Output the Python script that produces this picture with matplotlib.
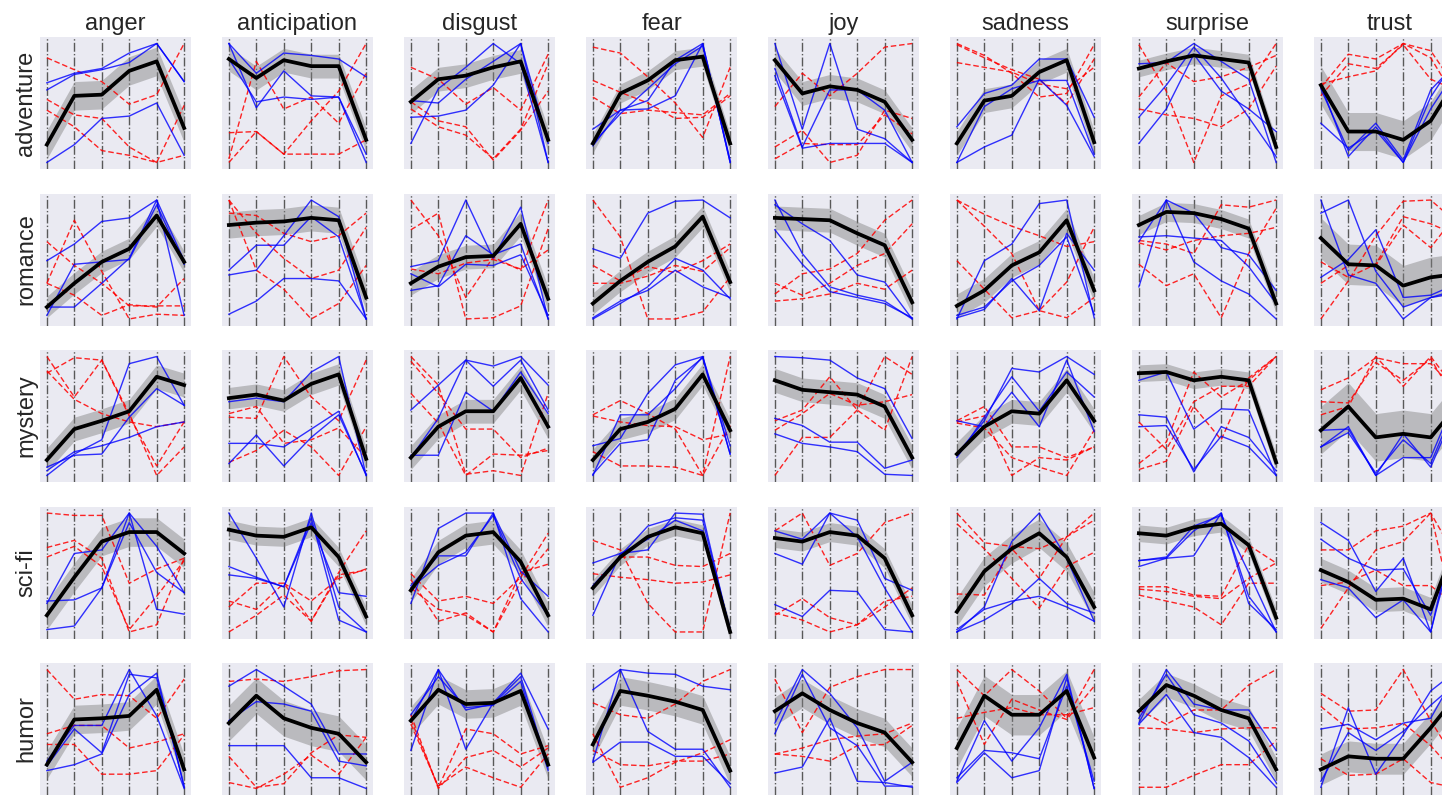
import matplotlib
matplotlib.use("Agg")
import matplotlib.pyplot as plt
import numpy as np

plt.rcParams['font.family'] = ['Liberation Sans', 'DejaVu Sans']

emotions = ["anger", "anticipation", "disgust", "fear", "joy", "sadness", "surprise", "trust"]
genres = ["adventure", "romance", "mystery", "sci-fi", "humor"]

# half-width of the grey band around each mean line (rows = genres, cols = emotions)
spread = [
    [0.12, 0.10, 0.10, 0.08, 0.10, 0.10, 0.07, 0.16],
    [0.09, 0.11, 0.10, 0.09, 0.10, 0.10, 0.08, 0.17],
    [0.10, 0.09, 0.10, 0.09, 0.10, 0.10, 0.07, 0.20],
    [0.12, 0.08, 0.10, 0.07, 0.08, 0.12, 0.07, 0.10],
    [0.12, 0.15, 0.12, 0.12, 0.12, 0.17, 0.10, 0.13],
]

# ---- adventure ----
adventure_mean = [
    [0.15, 0.56, 0.57, 0.77, 0.85, 0.29],
    [0.87, 0.71, 0.86, 0.81, 0.81, 0.19],
    [0.51, 0.70, 0.73, 0.80, 0.85, 0.19],
    [0.16, 0.58, 0.69, 0.86, 0.89, 0.16],
    [0.86, 0.58, 0.64, 0.61, 0.51, 0.19],
    [0.16, 0.52, 0.56, 0.76, 0.86, 0.17],
    [0.79, 0.85, 0.90, 0.87, 0.84, 0.13],
    [0.65, 0.26, 0.26, 0.19, 0.35, 0.72],
]
adventure_blue = [
    [[0.67, 0.75, 0.79, 0.92, 1.0, 0.68], [0.61, 0.74, 0.78, 0.84, 1.0, 0.68], [0.0, 0.15, 0.37, 0.39, 0.50, 0.06]],
    [[1.0, 0.75, 0.92, 0.90, 0.87, 0.72], [1.0, 0.46, 0.77, 0.56, 0.55, 0.0], [0.87, 0.51, 0.55, 0.53, 0.55, 0.07]],
    [[0.16, 0.62, 0.80, 1.0, 0.83, 0.0], [0.52, 0.50, 0.70, 0.85, 1.0, 0.0], [0.38, 0.39, 0.44, 0.65, 1.0, 0.16]],
    [[0.28, 0.44, 0.52, 0.86, 1.0, 0.0], [0.14, 0.44, 0.45, 0.56, 1.0, 0.0], [0.16, 0.41, 0.62, 0.83, 0.98, 0.02]],
    [[1.0, 0.28, 1.0, 0.28, 0.20, 0.0], [0.79, 0.13, 0.61, 0.61, 0.44, 0.0], [0.73, 0.12, 0.16, 0.16, 0.16, 0.0]],
    [[0.30, 0.58, 0.65, 0.87, 0.87, 0.38], [0.0, 0.47, 0.62, 0.69, 0.69, 0.07], [0.0, 0.13, 0.23, 0.70, 0.48, 0.05]],
    [[0.83, 0.84, 1.0, 0.85, 0.70, 0.0], [0.38, 0.65, 0.97, 0.71, 0.38, 0.05], [0.16, 0.45, 0.91, 0.60, 0.45, 0.26]],
    [[0.65, 0.05, 0.30, 0.0, 0.55, 0.9], [0.33, 0.12, 0.27, 0.0, 0.45, 0.8], [0.62, 0.10, 0.33, 0.02, 0.61, 0.85]],
]
adventure_red = [
    [[0.88, 0.78, 0.68, 0.49, 0.57, 1.0], [0.53, 0.40, 0.37, 0.13, 0.0, 0.06], [0.44, 0.30, 0.10, 0.06, 0.0, 0.48]],
    [[0.03, 0.85, 0.45, 0.55, 0.33, 0.75], [0.25, 0.26, 0.07, 0.07, 0.07, 0.19], [0.0, 0.26, 0.07, 0.35, 0.60, 1.0]],
    [[0.80, 0.70, 0.49, 0.63, 0.44, 0.91], [0.51, 0.35, 0.30, 0.02, 0.27, 0.60], [0.45, 0.30, 0.23, 0.03, 0.28, 0.83]],
    [[0.97, 0.92, 0.72, 0.50, 0.21, 0.80], [0.69, 0.59, 0.50, 0.37, 0.38, 0.56], [0.55, 0.41, 0.44, 0.42, 0.40, 0.58]],
    [[0.47, 0.75, 0.56, 0.75, 0.97, 1.0], [0.13, 0.27, 0.0, 0.06, 0.44, 0.37], [0.03, 0.16, 0.15, 0.15, 0.40, 0.24]],
    [[1.0, 0.90, 0.75, 0.55, 0.58, 0.99], [0.99, 0.88, 0.78, 0.70, 0.49, 0.87], [0.84, 0.80, 0.76, 0.66, 0.62, 0.80]],
    [[0.99, 0.60, 0.0, 0.56, 0.66, 1.0], [0.45, 0.40, 0.37, 0.30, 0.45, 0.81], [0.55, 0.84, 0.68, 0.72, 0.80, 0.90]],
    [[0.63, 0.91, 0.87, 1.0, 0.94, 0.6], [0.56, 0.83, 0.79, 0.99, 0.70, 0.6], [0.66, 0.72, 0.77, 1.0, 0.88, 0.5]],
]

# ---- romance ----
romance_mean = [
    [0.10, 0.30, 0.48, 0.59, 0.87, 0.48],
    [0.79, 0.81, 0.82, 0.85, 0.83, 0.18],
    [0.30, 0.44, 0.52, 0.53, 0.80, 0.17],
    [0.13, 0.32, 0.48, 0.61, 0.86, 0.31],
    [0.85, 0.84, 0.83, 0.72, 0.62, 0.14],
    [0.11, 0.24, 0.45, 0.56, 0.83, 0.24],
    [0.79, 0.90, 0.89, 0.84, 0.76, 0.13],
    [0.68, 0.46, 0.45, 0.28, 0.35, 0.38],
]
romance_blue = [
    [[0.49, 0.63, 0.82, 0.85, 1.0, 0.49], [0.10, 0.10, 0.30, 0.51, 1.0, 0.03], [0.03, 0.46, 0.48, 0.50, 0.96, 0.46]],
    [[0.37, 0.41, 0.70, 1.0, 0.86, 0.0], [0.41, 0.62, 0.62, 0.86, 0.69, 0.0], [0.04, 0.15, 0.34, 0.34, 0.32, 0.0]],
    [[0.44, 0.49, 1.0, 0.51, 0.94, 0.0], [0.24, 0.28, 0.70, 0.54, 0.63, 0.0], [0.38, 0.27, 0.46, 0.45, 0.54, 0.03]],
    [[0.59, 0.51, 0.89, 0.99, 1.0, 0.85], [0.0, 0.13, 0.27, 0.51, 0.41, 0.17], [0.01, 0.15, 0.24, 0.41, 0.27, 0.18]],
    [[1.0, 0.55, 0.27, 0.20, 0.15, 0.0], [0.96, 0.80, 0.66, 0.37, 0.31, 0.0], [0.75, 0.46, 0.23, 0.18, 0.13, 0.01]],
    [[0.0, 0.49, 0.63, 0.97, 1.0, 0.01], [0.01, 0.08, 0.34, 0.07, 0.72, 0.41], [0.03, 0.10, 0.32, 0.45, 0.69, 0.04]],
    [[0.65, 1.0, 0.89, 0.60, 0.54, 0.24], [0.27, 1.0, 0.48, 0.32, 0.21, 0.0], [0.69, 0.70, 0.68, 0.66, 0.44, 0.13]],
    [[1.0, 0.37, 0.30, 0.0, 0.18, 0.25], [0.89, 1.0, 0.40, 0.10, 0.18, 0.22], [0.35, 0.50, 0.75, 0.18, 0.20, 0.30]],
]
romance_red = [
    [[0.30, 0.83, 0.40, 0.0, 0.04, 0.03], [0.65, 0.45, 0.30, 0.11, 0.11, 0.11], [0.30, 0.20, 0.03, 0.12, 0.10, 0.34]],
    [[1.0, 0.41, 0.25, 0.0, 0.13, 0.45], [0.89, 0.87, 0.72, 0.65, 0.70, 0.89], [1.0, 0.72, 0.51, 0.34, 0.41, 0.77]],
    [[1.0, 0.70, 0.18, 0.52, 0.41, 1.0], [0.75, 0.89, 0.0, 0.01, 0.11, 0.76], [0.42, 0.38, 0.47, 0.50, 0.42, 0.58]],
    [[1.0, 0.69, 0.0, 0.0, 0.06, 0.35], [0.45, 0.32, 0.44, 0.39, 0.49, 0.63], [0.30, 0.30, 0.36, 0.45, 0.40, 0.60]],
    [[0.21, 0.38, 0.42, 0.55, 0.83, 1.0], [0.15, 0.17, 0.21, 0.30, 0.25, 0.41], [0.30, 0.20, 0.30, 0.45, 0.55, 0.80]],
    [[1.0, 0.78, 0.55, 0.07, 0.31, 0.77], [1.0, 0.88, 0.78, 0.70, 0.61, 0.65], [0.49, 0.25, 0.01, 0.07, 0.01, 0.18]],
    [[0.66, 0.63, 0.55, 0.96, 0.94, 1.0], [0.46, 0.28, 0.38, 0.01, 0.55, 0.93], [0.64, 0.58, 0.66, 0.70, 0.72, 0.77]],
    [[0.0, 0.32, 0.70, 0.99, 1.0, 0.8], [0.48, 0.35, 0.46, 0.86, 0.80, 0.7], [0.30, 0.45, 0.45, 0.79, 0.60, 0.9]],
]

# ---- mystery ----
mystery_mean = [
    [0.13, 0.39, 0.46, 0.54, 0.83, 0.76],
    [0.65, 0.68, 0.63, 0.77, 0.85, 0.14],
    [0.15, 0.41, 0.54, 0.54, 0.82, 0.41],
    [0.13, 0.39, 0.45, 0.56, 0.85, 0.38],
    [0.80, 0.72, 0.70, 0.68, 0.58, 0.15],
    [0.18, 0.41, 0.54, 0.52, 0.80, 0.46],
    [0.86, 0.87, 0.80, 0.83, 0.80, 0.11],
    [0.38, 0.58, 0.32, 0.35, 0.32, 0.6],
]
mystery_blue = [
    [[0.0, 0.18, 0.30, 0.94, 1.0, 0.59], [0.07, 0.17, 0.18, 0.49, 0.73, 0.59], [0.04, 0.20, 0.25, 0.32, 0.41, 0.45]],
    [[0.62, 0.65, 0.62, 0.87, 1.0, 0.0], [0.27, 0.27, 0.24, 0.39, 0.54, 0.0], [0.10, 0.34, 0.08, 0.32, 0.51, 0.01]],
    [[0.55, 0.76, 0.97, 0.92, 1.0, 0.76], [0.17, 0.17, 0.70, 0.54, 0.87, 0.52], [0.15, 0.48, 0.97, 0.75, 0.97, 0.55]],
    [[0.0, 0.51, 0.51, 0.73, 1.0, 0.18], [0.25, 0.31, 0.69, 0.93, 1.0, 0.25], [0.01, 0.27, 0.30, 0.80, 0.99, 0.18]],
    [[1.0, 0.99, 0.97, 0.82, 0.73, 0.31], [0.48, 0.42, 0.28, 0.28, 0.06, 0.13], [0.35, 0.27, 0.24, 0.20, 0.01, 0.0]],
    [[0.18, 0.46, 0.90, 0.87, 1.0, 0.85], [0.46, 0.41, 0.70, 0.41, 0.97, 0.37], [0.15, 0.49, 0.83, 0.54, 0.87, 0.66]],
    [[0.80, 0.87, 0.39, 0.56, 0.55, 0.0], [0.51, 0.49, 0.03, 0.41, 0.32, 0.04], [0.41, 0.42, 0.05, 0.33, 0.24, 0.0]],
    [[0.24, 0.41, 0.0, 0.35, 0.07, 0.6], [0.38, 0.39, 0.0, 0.15, 0.15, 0.7], [0.24, 0.36, 0.02, 0.30, 0.10, 0.65]],
]
mystery_red = [
    [[1.0, 0.66, 0.97, 0.52, 0.0, 0.24], [0.86, 0.99, 0.97, 0.50, 0.08, 0.45], [0.88, 0.64, 0.52, 0.45, 0.41, 0.45]],
    [[0.49, 0.48, 1.0, 0.66, 0.46, 0.97], [0.11, 0.21, 0.38, 0.24, 0.0, 0.41], [0.52, 0.58, 0.27, 0.30, 0.40, 0.15]],
    [[1.0, 0.76, 0.01, 0.04, 0.0, 0.69], [0.96, 0.69, 0.39, 0.39, 0.15, 0.23], [0.69, 0.44, 0.0, 0.18, 0.17, 0.21]],
    [[0.51, 0.63, 0.52, 0.39, 0.0, 1.0], [0.20, 0.08, 0.08, 0.07, 0.0, 0.42], [0.50, 0.45, 0.42, 0.41, 0.30, 0.35]],
    [[0.0, 0.32, 0.32, 0.55, 1.0, 0.85], [0.46, 0.55, 0.83, 0.55, 0.38, 1.0], [0.38, 0.52, 0.69, 0.59, 0.62, 0.68]],
    [[0.46, 0.58, 0.24, 0.24, 0.15, 0.24], [0.44, 0.40, 0.15, 0.07, 0.0, 0.38], [0.45, 0.50, 0.0, 0.15, 0.13, 0.24]],
    [[0.10, 0.28, 0.87, 0.66, 0.80, 1.0], [0.45, 0.22, 0.62, 0.75, 0.75, 1.0], [0.05, 0.12, 0.58, 0.30, 0.82, 1.0]],
    [[0.72, 0.82, 0.99, 0.94, 0.94, 0.7], [0.51, 0.58, 1.0, 0.75, 1.0, 0.7], [0.62, 0.61, 0.95, 0.80, 0.98, 0.6]],
]

# ---- sci-fi ----
scifi_mean = [
    [0.14, 0.46, 0.76, 0.84, 0.84, 0.66],
    [0.86, 0.81, 0.80, 0.88, 0.63, 0.13],
    [0.35, 0.67, 0.81, 0.84, 0.59, 0.14],
    [0.37, 0.63, 0.80, 0.88, 0.83, 0.0],
    [0.79, 0.76, 0.84, 0.81, 0.62, 0.14],
    [0.17, 0.51, 0.70, 0.83, 0.63, 0.21],
    [0.83, 0.81, 0.88, 0.91, 0.73, 0.12],
    [0.52, 0.42, 0.27, 0.28, 0.19, 0.8],
]
scifi_blue = [
    [[0.26, 0.27, 0.37, 1.0, 0.19, 0.15], [0.02, 0.05, 0.37, 0.92, 0.50, 0.33], [0.24, 0.66, 0.69, 1.0, 0.72, 0.33]],
    [[1.0, 0.62, 0.21, 1.0, 0.21, 0.0], [0.55, 0.46, 0.38, 0.96, 0.10, 0.0], [0.48, 0.45, 0.38, 0.92, 0.33, 0.30]],
    [[0.24, 0.87, 1.0, 1.0, 0.28, 0.0], [0.39, 0.64, 0.64, 1.0, 0.51, 0.30], [0.37, 0.56, 0.67, 0.98, 0.45, 0.14]],
    [[0.14, 0.66, 0.69, 1.0, 0.99, 0.0], [0.39, 0.64, 0.89, 0.96, 0.94, 0.01], [0.58, 0.66, 0.78, 0.94, 0.85, 0.03]],
    [[0.85, 0.78, 1.0, 0.94, 0.45, 0.35], [0.66, 0.57, 1.0, 0.80, 0.37, 0.0], [0.23, 0.13, 0.35, 0.34, 0.02, 0.0]],
    [[0.0, 0.21, 0.76, 1.0, 0.62, 0.09], [0.0, 0.10, 0.24, 0.45, 0.24, 0.16], [0.02, 0.19, 0.26, 0.30, 0.21, 0.09]],
    [[0.60, 0.62, 0.64, 1.0, 0.30, 0.0], [0.55, 0.62, 0.85, 1.0, 0.24, 0.02], [0.60, 0.63, 0.89, 0.98, 0.50, 0.0]],
    [[0.92, 0.77, 0.34, 0.62, 0.0, 1.0], [0.78, 0.62, 0.52, 0.53, 0.14, 0.9], [0.44, 0.37, 0.12, 0.27, 0.0, 0.9]],
]
scifi_red = [
    [[1.0, 0.98, 0.98, 0.41, 0.53, 0.62], [0.71, 0.77, 0.62, 0.0, 0.06, 0.62], [0.63, 0.72, 0.55, 0.02, 0.30, 0.60]],
    [[0.26, 0.19, 0.41, 0.26, 0.45, 0.53], [0.0, 0.14, 0.31, 0.09, 0.50, 0.85], [0.21, 0.41, 0.41, 0.09, 0.48, 0.52]],
    [[0.49, 0.26, 0.30, 0.24, 0.46, 0.83], [0.44, 0.09, 0.16, 0.0, 0.42, 0.70], [0.37, 0.19, 0.14, 0.0, 0.50, 0.57]],
    [[0.77, 0.69, 0.24, 0.0, 0.0, 1.0], [0.37, 0.63, 0.63, 0.56, 0.55, 0.66], [0.49, 0.46, 0.44, 0.41, 0.42, 0.48]],
    [[0.85, 1.0, 0.56, 0.66, 0.92, 1.0], [0.14, 0.28, 0.12, 0.06, 0.21, 0.37], [0.16, 0.10, 0.0, 0.06, 0.26, 0.30]],
    [[1.0, 0.75, 0.72, 0.70, 0.80, 0.94], [0.91, 0.70, 0.45, 0.20, 0.55, 0.67], [0.32, 0.31, 0.70, 0.45, 0.80, 1.0]],
    [[0.38, 0.38, 0.31, 0.30, 0.73, 0.58], [0.31, 0.26, 0.21, 0.06, 0.41, 0.41], [0.36, 0.34, 0.30, 0.28, 0.45, 0.58]],
    [[0.69, 0.69, 0.85, 0.89, 1.0, 0.6], [0.03, 0.37, 0.69, 0.76, 1.0, 0.0], [0.39, 0.42, 0.52, 0.39, 0.39, 0.2]],
]

# ---- humor ----
humor_mean = [
    [0.20, 0.58, 0.59, 0.61, 0.83, 0.16],
    [0.55, 0.78, 0.59, 0.51, 0.46, 0.22],
    [0.57, 0.83, 0.71, 0.72, 0.82, 0.20],
    [0.37, 0.82, 0.78, 0.73, 0.66, 0.15],
    [0.65, 0.80, 0.66, 0.55, 0.47, 0.22],
    [0.34, 0.78, 0.62, 0.62, 0.82, 0.26],
    [0.65, 0.87, 0.78, 0.66, 0.59, 0.16],
    [0.16, 0.27, 0.25, 0.25, 0.51, 0.80],
]
humor_blue = [
    [[0.23, 0.53, 0.53, 1.0, 0.61, 0.0], [0.15, 0.20, 0.29, 0.79, 0.97, 0.01], [0.19, 0.50, 0.30, 0.96, 0.93, 0.02]],
    [[0.86, 1.0, 0.86, 0.71, 0.29, 0.29], [0.57, 0.73, 0.71, 0.65, 0.23, 0.19], [0.36, 0.36, 0.36, 0.09, 0.09, 0.0]],
    [[0.32, 1.0, 0.33, 0.72, 0.97, 0.50], [0.57, 1.0, 0.66, 0.71, 0.94, 0.18], [0.62, 0.94, 0.68, 0.70, 0.90, 0.15]],
    [[0.83, 1.0, 0.97, 0.96, 0.86, 0.83], [0.23, 1.0, 0.48, 0.33, 0.33, 0.01], [0.22, 0.39, 0.39, 0.27, 0.27, 0.04]],
    [[0.55, 1.0, 0.80, 0.51, 0.06, 0.22], [0.46, 0.96, 0.51, 0.36, 0.02, 0.02], [0.13, 0.18, 0.59, 0.06, 0.05, 0.01]],
    [[0.06, 0.57, 0.23, 0.51, 0.96, 0.0], [0.09, 0.32, 0.30, 0.25, 0.86, 0.06], [0.05, 0.30, 0.09, 0.15, 0.93, 0.0]],
    [[0.55, 1.0, 0.71, 0.66, 0.66, 0.32], [0.54, 0.79, 0.47, 0.43, 0.26, 0.01], [0.59, 0.96, 0.62, 0.55, 0.40, 0.05]],
    [[0.50, 0.54, 0.41, 0.55, 0.59, 1.0], [0.01, 0.68, 0.12, 0.45, 0.82, 1.0], [0.06, 0.47, 0.32, 0.48, 0.70, 0.9]],
]
humor_red = [
    [[1.0, 0.75, 0.79, 0.78, 0.59, 0.92], [0.46, 0.53, 0.53, 0.34, 0.39, 0.46], [0.37, 0.37, 0.12, 0.12, 0.15, 0.45]],
    [[0.90, 0.92, 0.90, 0.94, 0.99, 1.0], [0.27, 0.01, 0.04, 0.30, 0.45, 0.43], [0.05, 0.0, 0.12, 0.28, 0.12, 0.43]],
    [[0.58, 0.01, 0.50, 0.46, 0.29, 0.36], [0.62, 0.0, 0.26, 0.32, 0.18, 0.34], [0.54, 0.02, 0.18, 0.09, 0.01, 0.29]],
    [[0.72, 0.62, 0.59, 0.71, 0.90, 1.0], [0.46, 0.01, 0.09, 0.22, 0.30, 0.41], [0.32, 0.20, 0.19, 0.23, 0.23, 0.29]],
    [[0.92, 0.47, 0.85, 0.94, 1.0, 1.0], [0.29, 0.34, 0.41, 0.44, 0.46, 0.55], [0.29, 0.27, 0.23, 0.36, 0.37, 0.53]],
    [[1.0, 0.78, 1.0, 0.82, 0.59, 1.0], [0.90, 0.37, 0.75, 0.66, 0.58, 0.86], [0.59, 0.64, 0.68, 0.62, 0.62, 0.68]],
    [[0.66, 0.54, 0.66, 0.66, 0.87, 1.0], [0.51, 0.50, 0.47, 0.50, 0.51, 0.51], [0.01, 0.01, 0.11, 0.20, 0.20, 0.40]],
    [[0.80, 0.65, 0.66, 1.0, 0.57, 0.2], [0.69, 0.50, 0.51, 0.55, 0.36, 0.1], [0.25, 0.11, 0.12, 0.25, 0.05, 0.0]],
]

means = [adventure_mean, romance_mean, mystery_mean, scifi_mean, humor_mean]
blues = [adventure_blue, romance_blue, mystery_blue, scifi_blue, humor_blue]
reds = [adventure_red, romance_red, mystery_red, scifi_red, humor_red]

W, H = 1442, 797
fig = plt.figure(figsize=(W / 100, H / 100), dpi=100)

x = np.arange(6)
for r, genre in enumerate(genres):
    for c, emo in enumerate(emotions):
        left = 40 + 182 * c
        top = 37 + 156.5 * r
        ax = fig.add_axes([left / W, 1 - (top + 132) / H, 151 / W, 132 / H])
        ax.set_facecolor('#EAEAF2')
        for xv in x:
            ax.axvline(xv, color='0.35', ls='-.', lw=1.0, zorder=1)
        m = np.array(means[r][c])
        s = spread[r][c]
        ax.fill_between(x, m - s, m + s, color='0.5', alpha=0.45, lw=0, zorder=2)
        for line in reds[r][c]:
            ax.plot(x, line, color='red', ls=(0, (4, 2)), lw=1.0, alpha=0.85, zorder=3)
        for line in blues[r][c]:
            ax.plot(x, line, color='blue', lw=1.0, alpha=0.8, zorder=4)
        ax.plot(x, m, color='black', lw=2.7, zorder=5)
        ax.set_xlim(-0.25, 5.25)
        ax.set_ylim(-0.055, 1.055)
        ax.set_xticks([])
        ax.set_yticks([])
        for sp in ax.spines.values():
            sp.set_visible(False)
        if r == 0:
            ax.set_title(emo, fontsize=17, pad=5, color='0.15')
        if c == 0:
            ax.set_ylabel(genre, fontsize=17, labelpad=2, color='0.15')

fig.savefig('out.png', dpi=100)
